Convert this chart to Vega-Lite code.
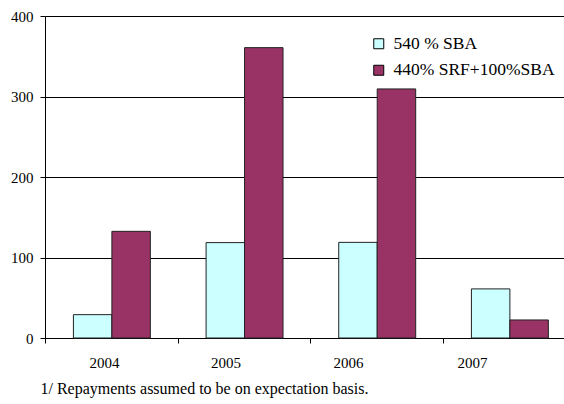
{
  "$schema": "https://vega.github.io/schema/vega-lite/v6.json",
  "autosize": {"type": "none"},
  "padding": {"left": 45, "top": 16, "right": 0, "bottom": 66},
  "width": 519,
  "height": 322,
  "background": "white",
  "title": {
    "text": "Total Surcharges (in SDR million) 1/",
    "font": "Liberation Serif",
    "fontSize": 15,
    "fontWeight": "normal",
    "color": "black",
    "anchor": "middle",
    "frame": "group",
    "baseline": "alphabetic",
    "offset": 12,
    "dx": -32
  },
  "data": {
    "values": [
      {"year": "2004", "series": "540 % SBA", "value": 29},
      {"year": "2004", "series": "440% SRF+100%SBA", "value": 132.5},
      {"year": "2005", "series": "540 % SBA", "value": 118.5},
      {"year": "2005", "series": "440% SRF+100%SBA", "value": 360.7},
      {"year": "2006", "series": "540 % SBA", "value": 118.8},
      {"year": "2006", "series": "440% SRF+100%SBA", "value": 309.4},
      {"year": "2007", "series": "540 % SBA", "value": 61},
      {"year": "2007", "series": "440% SRF+100%SBA", "value": 22.4}
    ]
  },
  "mark": {"type": "bar", "stroke": "#222222", "strokeWidth": 1},
  "encoding": {
    "x": {
      "field": "year",
      "type": "nominal",
      "scale": {"paddingInner": 0.42, "paddingOuter": 0.166, "align": 0.645},
      "axis": {
        "title": "1/ Repayments assumed to be on expectation basis.",
        "titleFont": "Liberation Serif",
        "titleFontSize": 16,
        "titleFontWeight": "normal",
        "titleColor": "black",
        "titleAnchor": "start",
        "titleAlign": "left",
        "titleBaseline": "alphabetic",
        "titleX": -5,
        "titleY": 55,
        "labelAngle": 0,
        "labelFont": "Liberation Serif",
        "labelFontSize": 15,
        "labelColor": "black",
        "labelPadding": 12,
        "tickOffset": -66.85,
        "labelOffset": {
          "condition": [
            {"test": "datum.value == '2005'", "value": 47.85},
            {"test": "datum.value == '2006'", "value": 37.65},
            {"test": "datum.value == '2007'", "value": 28.95}
          ],
          "value": 59
        },
        "tickSize": 5,
        "tickColor": "black",
        "domainColor": "black",
        "grid": false
      }
    },
    "xOffset": {"field": "series", "type": "nominal", "sort": ["540 % SBA", "440% SRF+100%SBA"], "scale": {"paddingInner": 0, "paddingOuter": 0}},
    "y": {
      "field": "value",
      "type": "quantitative",
      "scale": {"domain": [0, 400], "nice": false},
      "axis": {
        "title": null,
        "values": [0, 100, 200, 300, 400],
        "labelFont": "Liberation Serif",
        "labelFontSize": 15,
        "labelColor": "black",
        "labelPadding": 7,
        "tickSize": 5,
        "tickColor": "black",
        "domainColor": "black",
        "gridColor": "black",
        "gridOpacity": 1,
        "gridWidth": 1,
        "grid": true
      }
    },
    "color": {
      "field": "series",
      "type": "nominal",
      "sort": ["540 % SBA", "440% SRF+100%SBA"],
      "scale": {"domain": ["540 % SBA", "440% SRF+100%SBA"], "range": ["#CCFFFF", "#993366"]},
      "legend": {
        "title": null,
        "orient": "none",
        "legendX": 325,
        "legendY": 19,
        "padding": 0,
        "symbolType": "square",
        "symbolSize": 100,
        "symbolStrokeColor": "black",
        "symbolStrokeWidth": 1,
        "labelFont": "Liberation Serif",
        "labelFontSize": 17.5,
        "labelColor": "black",
        "labelOffset": 6,
        "labelLimit": 400,
        "rowPadding": 7.5
      }
    }
  },
  "config": {"view": {"stroke": null}}
}
